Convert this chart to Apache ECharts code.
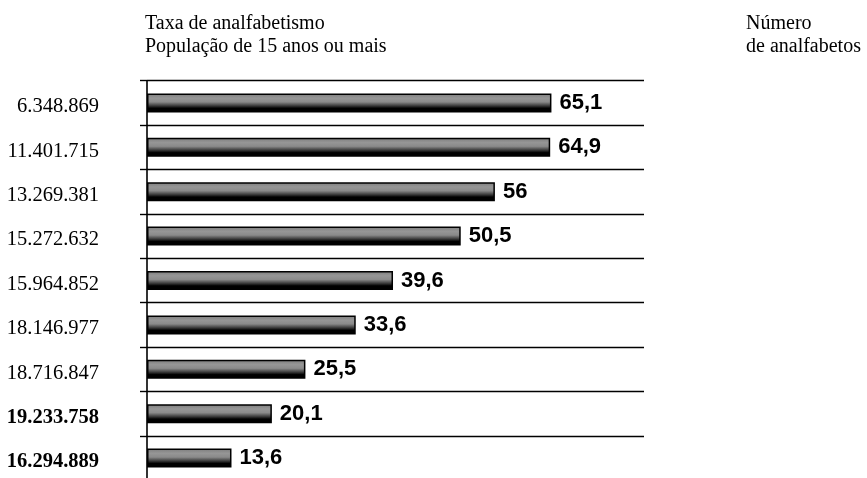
<!DOCTYPE html>
<html><head><meta charset="utf-8">
<script src="https://cdn.jsdelivr.net/npm/echarts@6/dist/echarts.min.js"></script>
<style>html,body{margin:0;padding:0;background:#fff}#c{width:867px;height:478px}</style>
</head><body><div id="c"></div>
<script>
const categories = ['6.348.869','11.401.715','13.269.381','15.272.632','15.964.852','18.146.977','18.716.847','19.233.758','16.294.889'];
const boldCategories = ['19.233.758','16.294.889'];
const rates = [65.1, 64.9, 56, 50.5, 39.6, 33.6, 25.5, 20.1, 13.6];
const leftTitle = 'Taxa de analfabetismo\nPopulação de 15 anos ou mais';
const rightTitle = 'Número\nde analfabetos';

const chart = echarts.init(document.getElementById('c'), null, {renderer:'canvas'});
const serif = '"Liberation Serif","Times New Roman",serif';
chart.setOption({
  animation:false,
  backgroundColor:'#fff',
  title:[
    {text:leftTitle, left:140, top:7, textStyle:{fontFamily:serif, fontWeight:'normal', fontSize:20, lineHeight:23, color:'#000'}},
    {text:rightTitle, left:741, top:7, textStyle:{fontFamily:serif, fontWeight:'normal', fontSize:20, lineHeight:23, color:'#000'}}
  ],
  grid:{show:false, borderWidth:0, left:147, top:80.7, width:497, height:399.6, containLabel:false, outerBoundsMode:'none'},
  xAxis:{type:'value', min:0, max:80, show:false,
    axisLine:{show:false}, axisTick:{show:false}, axisLabel:{show:false}, splitLine:{show:false}},
  yAxis:{
    type:'category', data:categories, inverse:true,
    axisLine:{show:true, lineStyle:{color:'#000', width:1.6}},
    axisTick:{show:true, length:7, lineStyle:{color:'#000', width:1.4}},
    splitLine:{show:true, lineStyle:{color:'#000', width:1.4}},
    axisLabel:{
      margin:48, padding:[8,0,0,0],
      formatter:(v)=> boldCategories.includes(v) ? '{b|'+v+'}' : '{n|'+v+'}',
      rich:{
        n:{fontFamily:serif, fontSize:20.5, color:'#000'},
        b:{fontFamily:serif, fontSize:20.5, fontWeight:'bold', color:'#000'}
      }
    }
  },
  series:[{
    type:'bar', data:rates, barWidth:19,
    itemStyle:{
      borderColor:'#000', borderWidth:1.5,
      color:new echarts.graphic.LinearGradient(0,0,0,1,[
        {offset:0,color:'#7c7c7c'},
        {offset:0.25,color:'#969696'},
        {offset:0.45,color:'#8a8a8a'},
        {offset:0.65,color:'#3a3a3a'},
        {offset:0.78,color:'#000'},
        {offset:1,color:'#000'}
      ])
    },
    label:{
      show:true, position:'right', distance:8,
      formatter:(p)=>String(p.value).replace('.',','),
      fontFamily:'"Liberation Sans",Arial,sans-serif', fontWeight:'bold', fontSize:22, color:'#000'
    }
  }]
});
</script></body></html>
